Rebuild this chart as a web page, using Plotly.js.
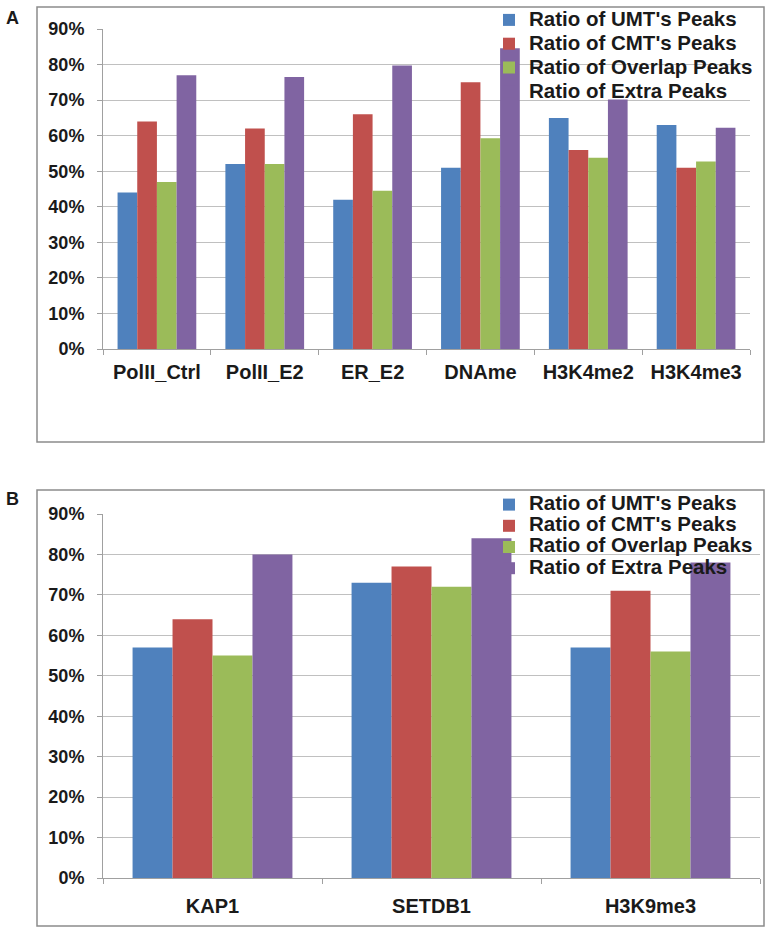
<!DOCTYPE html>
<html>
<head>
<meta charset="utf-8">
<script src="https://cdn.plot.ly/plotly-3.0.1.min.js"></script>
<style>html,body{margin:0;padding:0;background:#fff;}#chart{width:771px;height:934px;}</style>
</head>
<body>
<div id="chart"></div>
<script>
// ---- Data ----
const seriesNames = ["Ratio of UMT's Peaks", "Ratio of CMT's Peaks", "Ratio of Overlap Peaks", "Ratio of Extra Peaks"];
const seriesColors = ["#4F81BD", "#C0504D", "#9BBB59", "#8064A2"];

const categoriesA = ["PolII_Ctrl", "PolII_E2", "ER_E2", "DNAme", "H3K4me2", "H3K4me3"];
const umtA     = [0.44, 0.52, 0.42, 0.51, 0.65, 0.63];
const cmtA     = [0.64, 0.62, 0.66, 0.75, 0.56, 0.51];
const overlapA = [0.47, 0.52, 0.445, 0.593, 0.538, 0.527];
const extraA   = [0.77, 0.765, 0.797, 0.846, 0.702, 0.622];

const categoriesB = ["KAP1", "SETDB1", "H3K9me3"];
const umtB     = [0.57, 0.73, 0.57];
const cmtB     = [0.64, 0.77, 0.71];
const overlapB = [0.55, 0.72, 0.56];
const extraB   = [0.80, 0.84, 0.78];

const yTickVals = [0, 0.1, 0.2, 0.3, 0.4, 0.5, 0.6, 0.7, 0.8, 0.9];

// ---- Build ----
const W = 771, H = 934;
const FONT = '"Liberation Sans", Arial, sans-serif';
const px = v => v / W;
const py = v => 1 - v / H;

const legendLabel = s => '<span style="font-size:20.5px">' + s + '</span>';

const valsA = [umtA, cmtA, overlapA, extraA];
const valsB = [umtB, cmtB, overlapB, extraB];
const traces = [];
valsA.forEach((v, i) => traces.push({
  type: 'bar', x: categoriesA, y: v, name: legendLabel(seriesNames[i]),
  marker: {color: seriesColors[i]}, xaxis: 'x', yaxis: 'y', legend: 'legend', hoverinfo: 'none'
}));
valsB.forEach((v, i) => traces.push({
  type: 'bar', x: categoriesB, y: v, name: legendLabel(seriesNames[i]),
  marker: {color: seriesColors[i]}, xaxis: 'x2', yaxis: 'y2', legend: 'legend2', hoverinfo: 'none'
}));

const yTickFont = {family: FONT, size: 18, color: '#1a1a1a', weight: 'bold'};
const xTickFont = {family: FONT, size: 20, color: '#1a1a1a', weight: 'bold'};
const yAxisBase = {
  range: [0, 0.9], tickvals: yTickVals, tickformat: '.0%',
  showgrid: true, gridcolor: '#c0c0c0', gridwidth: 1,
  showline: true, linecolor: '#a0a0a0', linewidth: 1,
  ticks: 'outside', ticklen: 5, tickcolor: '#a0a0a0',
  tickfont: yTickFont, ticklabelstandoff: 9, zeroline: false, fixedrange: true
};
const xAxisBase = {
  showline: true, linecolor: '#a0a0a0', linewidth: 1,
  ticks: 'outside', ticklen: 5, tickcolor: '#a0a0a0', tickson: 'boundaries',
  tickfont: xTickFont, fixedrange: true
};
const legendBase = {
  bgcolor: 'rgba(0,0,0,0)', borderwidth: 0,
  font: {family: FONT, size: 16, color: '#1a1a1a', weight: 'bold'},
  xanchor: 'left', yanchor: 'top', itemwidth: 30, tracegroupgap: 0,
  itemclick: false, itemdoubleclick: false
};

const layout = {
  width: W, height: H,
  margin: {l: 0, r: 0, t: 0, b: 0},
  paper_bgcolor: '#fff', plot_bgcolor: 'rgba(0,0,0,0)',
  barmode: 'group', bargap: 0.27, bargroupgap: 0,
  font: {family: FONT},
  xaxis: Object.assign({}, xAxisBase, {domain: [px(103), px(750)], anchor: 'y', ticklabelstandoff: 5}),
  yaxis: Object.assign({}, yAxisBase, {domain: [py(349), py(29)], anchor: 'x'}),
  xaxis2: Object.assign({}, xAxisBase, {domain: [px(103), px(760)], anchor: 'y2', ticklabelstandoff: 10}),
  yaxis2: Object.assign({}, yAxisBase, {domain: [py(878), py(514)], anchor: 'x2'}),
  legend: Object.assign({}, legendBase, {x: px(489), y: py(3)}),
  legend2: Object.assign({}, legendBase, {x: px(489), y: py(489),
    font: {family: FONT, size: 14, color: '#1a1a1a', weight: 'bold'}}),
  shapes: [
    {type: 'rect', xref: 'paper', yref: 'paper', x0: px(37), x1: px(764), y0: py(442), y1: py(7),
     line: {color: '#8c8c8c', width: 1.5}, fillcolor: 'rgba(0,0,0,0)', layer: 'below'},
    {type: 'rect', xref: 'paper', yref: 'paper', x0: px(37), x1: px(764), y0: py(926), y1: py(490),
     line: {color: '#8c8c8c', width: 1.5}, fillcolor: 'rgba(0,0,0,0)', layer: 'below'}
  ],
  annotations: [
    {text: 'A', xref: 'paper', yref: 'paper', x: px(12), y: py(18), xanchor: 'center', yanchor: 'middle',
     showarrow: false, font: {family: FONT, size: 18, color: '#1a1a1a', weight: 'bold'}},
    {text: 'B', xref: 'paper', yref: 'paper', x: px(12), y: py(499), xanchor: 'center', yanchor: 'middle',
     showarrow: false, font: {family: FONT, size: 18, color: '#1a1a1a', weight: 'bold'}}
  ]
};

Plotly.newPlot('chart', traces, layout, {displayModeBar: false, staticPlot: true});
</script>
</body>
</html>
